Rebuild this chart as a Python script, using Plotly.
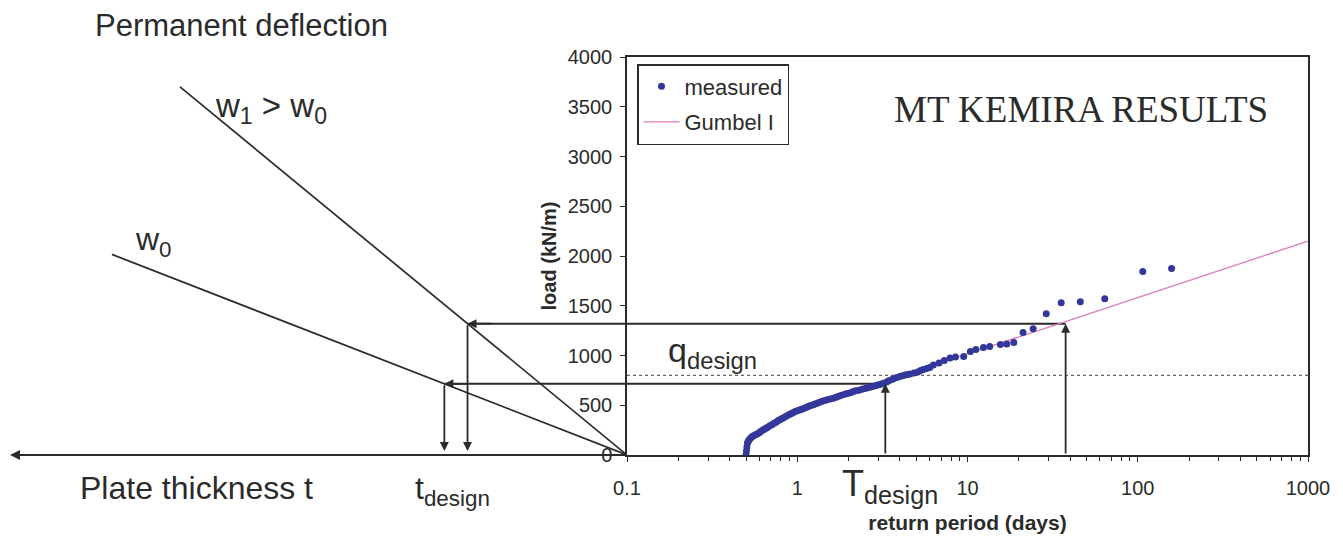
import numpy as np
import plotly.graph_objects as go

# ---- measured extreme loads: return period (days) vs load (kN/m) ----
T_MEASURED = [0.50, 0.503, 0.506, 0.51, 0.515, 0.52, 0.53, 0.54, 0.55, 0.565, 0.58, 0.595,
              0.61, 0.625, 0.64, 0.655, 0.67, 0.69, 0.71, 0.73, 0.75, 0.77, 0.79, 0.81,
              0.83, 0.855, 0.88, 0.905, 0.93, 0.955, 0.98, 1.01, 1.04, 1.07, 1.1, 1.135,
              1.17, 1.2, 1.24, 1.27, 1.31, 1.35, 1.4, 1.45, 1.5, 1.56, 1.63, 1.69, 1.75,
              1.82, 1.9, 1.97, 2.05, 2.12, 2.2, 2.3, 2.4, 2.5, 2.6, 2.7, 2.8, 2.9, 3.0,
              3.1, 3.2, 3.35, 3.45, 3.6, 3.7, 3.85, 4.0, 4.15, 4.3, 4.45, 4.6, 4.85, 5.1,
              5.3, 5.5, 5.75, 6.0, 6.3, 6.8, 7.3, 7.9, 8.5, 9.5, 10.4, 11.2, 12.4, 13.5,
              15.6, 17.0, 18.7, 21.2, 24.3, 29.0, 35.5, 46.0, 64.0, 107.0, 158.0]
LOAD_MEASURED = [0, 40, 80, 120, 135, 150, 165, 180, 190, 200, 210, 222,
                 235, 248, 260, 270, 280, 293, 305, 318, 330, 343, 355, 365,
                 375, 388, 400, 410, 420, 430, 440, 448, 455, 463, 470, 480,
                 490, 498, 505, 512, 520, 530, 540, 548, 555, 562, 570, 580, 590,
                 600, 610, 617, 625, 635, 645, 652, 660, 668, 675, 683, 690, 698, 705,
                 712, 720, 733, 745, 758, 770, 780, 790, 797, 805, 810, 815, 825, 835,
                 848, 860, 870, 880, 905, 925, 950, 975, 985, 990, 1040, 1060, 1080, 1090,
                 1110, 1115, 1130, 1230, 1270, 1420, 1530, 1540, 1570, 1845, 1875]

# ---- Gumbel I fit line ----
T_GUMBEL = [3.0, 10.0, 37.7, 100.0, 1000.0]
LOAD_GUMBEL = [718, 1018, 1340, 1580, 2150]

# ---- design levels ----
Q_DESIGN = 800
T_DESIGN_LOW, LOAD_DESIGN_LOW = 3.29, 715
T_DESIGN_HIGH, LOAD_DESIGN_HIGH = 37.7, 1320

# ---- plate thickness vs load (schematic, thickness grows to the left) ----
W1_T = [0.0, 4.47]
W1_LOAD = [0, 3700]
W0_T = [0.0, 5.15]
W0_LOAD = [0, 2016]
T_AXIS_END = 6.17

X_TICKS = [0.1, 1, 10, 100, 1000]
X_TICK_TEXT = ["0.1", "1", "10", "100", "1000"]
Y_TICKS = [0, 500, 1000, 1500, 2000, 2500, 3000, 3500, 4000]
MINOR_X = [m * d for d in (0.1, 1, 10, 100) for m in range(2, 10)]

INK = "#2b2b2b"
FONT = "Liberation Sans, Arial, sans-serif"

t_low = float(np.interp(LOAD_DESIGN_LOW, W0_LOAD, W0_T))
t_high = float(np.interp(LOAD_DESIGN_HIGH, W1_LOAD, W1_T))

fig = go.Figure()

# thickness diagram lines
fig.add_trace(go.Scatter(x=W1_T, y=W1_LOAD, xaxis="x2", yaxis="y", mode="lines",
                         line=dict(color=INK, width=1.7), showlegend=False, hoverinfo="skip"))
fig.add_trace(go.Scatter(x=W0_T, y=W0_LOAD, xaxis="x2", yaxis="y", mode="lines",
                         line=dict(color=INK, width=1.7), showlegend=False, hoverinfo="skip"))
# horizontal design lines: thickness side
for t_d, q in ((t_low, LOAD_DESIGN_LOW), (t_high, LOAD_DESIGN_HIGH)):
    fig.add_trace(go.Scatter(x=[0, t_d], y=[q, q], xaxis="x2", yaxis="y", mode="lines",
                             line=dict(color=INK, width=2), showlegend=False, hoverinfo="skip"))

# q_design dotted level
fig.add_trace(go.Scatter(x=[0.1, 1000], y=[Q_DESIGN, Q_DESIGN], mode="lines",
                         line=dict(color="#666666", width=1.3, dash="3px,3px"),
                         showlegend=False, hoverinfo="skip"))
# horizontal design lines: return-period side
for t_r, q in ((T_DESIGN_LOW, LOAD_DESIGN_LOW), (T_DESIGN_HIGH, LOAD_DESIGN_HIGH)):
    fig.add_trace(go.Scatter(x=[0.1, t_r], y=[q, q], mode="lines",
                             line=dict(color=INK, width=2), showlegend=False, hoverinfo="skip"))

fig.add_trace(go.Scatter(x=T_GUMBEL, y=LOAD_GUMBEL, mode="lines", name="Gumbel I",
                         line=dict(color="#e07ab8", width=1.3), legendrank=2,
                         legendgroup="g"))
fig.add_trace(go.Scatter(x=T_MEASURED, y=LOAD_MEASURED, mode="markers", name="measured",
                         marker=dict(color="#34379a", size=7), legendrank=1,
                         legendgroup="m"))

ann = []
arrow = dict(showarrow=True, arrowhead=2, arrowsize=1, arrowwidth=1.8, arrowcolor=INK,
             text="", standoff=0, startstandoff=0)
# plate thickness axis arrow
ann.append(dict(arrow, xref="x2", yref="y", axref="x2", ayref="y",
                x=T_AXIS_END, y=0, ax=0, ay=0, arrowwidth=2))
# left arrow heads on design lines
ann.append(dict(arrow, xref="x2", yref="y", axref="x2", ayref="y",
                x=t_low, y=LOAD_DESIGN_LOW, ax=t_low - 0.25, ay=LOAD_DESIGN_LOW))
ann.append(dict(arrow, xref="x2", yref="y", axref="x2", ayref="y",
                x=t_high, y=LOAD_DESIGN_HIGH, ax=t_high - 0.25, ay=LOAD_DESIGN_HIGH))
# down arrows to thickness axis
ann.append(dict(arrow, xref="x2", yref="y", axref="x2", ayref="y",
                x=t_low, y=40, ax=t_low, ay=LOAD_DESIGN_LOW))
ann.append(dict(arrow, xref="x2", yref="y", axref="x2", ayref="y",
                x=t_high, y=40, ax=t_high, ay=LOAD_DESIGN_HIGH))
# up arrows from return period axis
for t_r, q in ((T_DESIGN_LOW, LOAD_DESIGN_LOW), (T_DESIGN_HIGH, LOAD_DESIGN_HIGH)):
    ann.append(dict(arrow, xref="x", yref="y", axref="x", ayref="y",
                    x=np.log10(t_r), y=q, ax=np.log10(t_r), ay=0))

W, H_TOP, H_BOT = 1308.0, 57.0, 455.0


def px(x):
    return x / W


def py(y):
    return (H_BOT - y) / (H_BOT - H_TOP)


def label(text, x, y, size, xanchor="left", family=FONT):
    ann.append(dict(text=text, xref="paper", yref="paper", x=px(x), y=py(y),
                    xanchor=xanchor, yanchor="middle", showarrow=False,
                    font=dict(family=family, size=size, color=INK)))


label("Permanent deflection", 93, 25, 31)
label("w<sub>1</sub> &gt; w<sub>0</sub>", 213, 108, 33)
label("w<sub>0</sub>", 133, 242, 32)
label("Plate thickness t", 78, 488, 32)
label("t<sub>design</sub>", 413, 490, 32)
label("T<sub>design</sub>", 840, 486, 36)
label("q<sub>design</sub>", 666, 352, 34)
label("MT KEMIRA RESULTS", 1081, 110, 37, xanchor="center",
      family="Liberation Serif, Times New Roman, serif")

fig.update_layout(
    width=1343, height=539,
    margin=dict(l=0, r=1343 - W, t=H_TOP, b=539 - H_BOT, autoexpand=False),
    paper_bgcolor="white", plot_bgcolor="white",
    font=dict(family=FONT, color=INK, size=20),
    xaxis=dict(type="log", domain=[627 / W, 1], range=[-1, 3], anchor="y",
               automargin=False,
               tickvals=X_TICKS, ticktext=X_TICK_TEXT, ticks="outside", ticklen=5,
               tickcolor=INK, tickfont=dict(size=20, color=INK), ticklabelstandoff=9,
               showline=True, linecolor=INK, linewidth=1.5, mirror=True,
               showgrid=False, zeroline=False,
               minor=dict(tickvals=MINOR_X, ticks="outside", ticklen=4, tickcolor=INK,
                          showgrid=False),
               title=dict(text="<b>return period (days)</b>", font=dict(size=21),
                          standoff=18)),
    xaxis2=dict(domain=[0, 627 / W], range=[6.27, 0], anchor="y", visible=False,
                automargin=False),
    yaxis=dict(range=[0, 4000], anchor="x", automargin=False,
               tickvals=Y_TICKS, ticks="outside",
               ticklen=5, tickcolor=INK, tickfont=dict(size=20, color=INK),
               ticklabelstandoff=4, showline=True, linecolor=INK, linewidth=1.5,
               mirror=True, showgrid=False, zeroline=False,
               title=dict(text="<b>load (kN/m)</b>", font=dict(size=20), standoff=6)),
    legend=dict(x=637 / W, y=py(64), xanchor="left", yanchor="top",
                bordercolor=INK, borderwidth=1.5, bgcolor="white", itemwidth=36,
                font=dict(size=22, color=INK), traceorder="grouped", tracegroupgap=4),
    annotations=ann,
    showlegend=True,
)

fig.write_html("out.html")
